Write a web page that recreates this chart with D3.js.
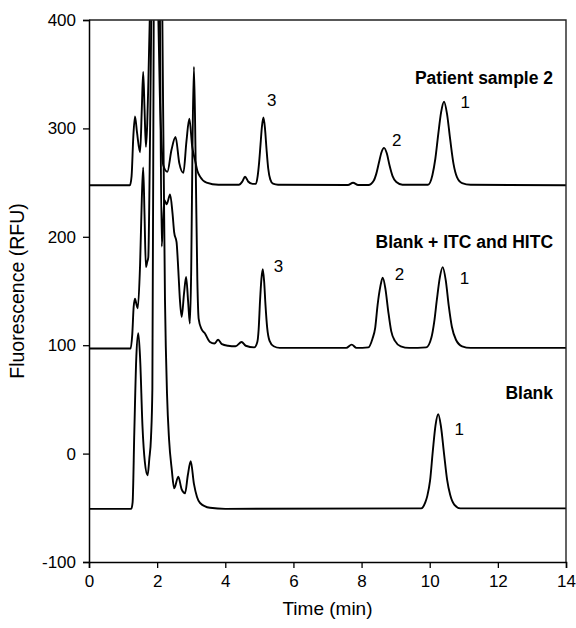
<!DOCTYPE html>
<html>
<head>
<meta charset="utf-8">
<script src="https://cdn.jsdelivr.net/npm/d3@7"></script>
<style>
  html, body { margin: 0; padding: 0; background: #fff; }
  svg { display: block; font-family: "Liberation Sans", Arial, sans-serif; }
</style>
</head>
<body>
<svg id="chart" width="576" height="628"></svg>
<script>
// Electropherogram traces: [time (min), fluorescence (RFU)]
const patientSample2 = [
  [0, 247.5], [1.2, 247.5], [1.25, 256], [1.3, 292], [1.35, 311], [1.41, 296], [1.5, 278],
  [1.55, 318], [1.59, 352], [1.63, 318], [1.67, 283], [1.71, 305], [1.74, 340], [1.79, 410],
  [1.91, 700], [2.03, 410], [2.08, 330], [2.13, 285], [2.18, 266], [2.3, 260], [2.42, 280],
  [2.54, 292], [2.65, 268], [2.77, 259], [2.86, 288], [2.945, 309], [3.03, 283], [3.11, 271],
  [3.18, 261], [3.26, 255.5], [3.45, 250], [3.8, 248], [4.4, 248], [4.5, 251], [4.58, 255.5],
  [4.67, 251], [4.8, 248.8], [4.9, 249], [4.95, 256], [4.99, 267.5], [5.035, 285.5],
  [5.075, 301.5], [5.12, 310], [5.165, 300], [5.21, 281], [5.26, 263], [5.32, 253], [5.4, 249],
  [5.55, 248], [7.6, 247.8], [7.75, 249.8], [7.9, 247.8], [8.2, 247.8], [8.36, 252],
  [8.435, 258.5], [8.51, 268.5], [8.585, 278], [8.66, 282], [8.74, 277], [8.82, 266],
  [8.91, 256], [9.02, 250.5], [9.2, 248], [9.95, 248], [10.08, 257], [10.165, 272],
  [10.25, 294.5], [10.335, 315], [10.42, 324.6], [10.51, 313], [10.6, 290], [10.7, 267],
  [10.8, 255], [10.95, 249.5], [11.2, 248], [14, 247.5]
];

const blankWithStandards = [
  [0, 97], [1.22, 97], [1.27, 110], [1.31, 135], [1.35, 143], [1.39, 138], [1.43, 134],
  [1.5, 175], [1.55, 235], [1.59, 264], [1.63, 220], [1.67, 172], [1.71, 177], [1.74, 181],
  [1.78, 260], [1.83, 410], [1.96, 800], [2.08, 410], [2.134, 191], [2.21, 234], [2.28, 230],
  [2.38, 239], [2.45, 222], [2.5, 204], [2.57, 195], [2.62, 170], [2.67, 141], [2.72, 126],
  [2.79, 148], [2.85, 163], [2.91, 140], [2.96, 120], [3.0, 170], [3.04, 290], [3.08, 357],
  [3.13, 270], [3.18, 160], [3.22, 124], [3.3, 115], [3.4, 111], [3.55, 103], [3.68, 101.5],
  [3.79, 105], [3.9, 101], [4.08, 99.5], [4.3, 99], [4.48, 103], [4.6, 99.5], [4.85, 98],
  [4.94, 103], [4.98, 115], [5.02, 141], [5.06, 161], [5.1, 170], [5.14, 159], [5.18, 137],
  [5.23, 116], [5.3, 104], [5.42, 99], [5.6, 97.5], [7.55, 97.5], [7.71, 100.5], [7.85, 97.5],
  [8.2, 98], [8.32, 106], [8.4, 116], [8.47, 137], [8.55, 154], [8.62, 162.3], [8.7, 152],
  [8.78, 132], [8.87, 113], [8.98, 104], [9.15, 99], [9.4, 97.5], [9.9, 98], [10.05, 107],
  [10.13, 121], [10.21, 142], [10.3, 163], [10.38, 172], [10.47, 160], [10.56, 136],
  [10.65, 117], [10.77, 105], [10.95, 99], [11.2, 97.5], [14, 97.5]
];

const blank = [
  [0, -51], [1.24, -51], [1.28, -45], [1.33, 20], [1.39, 90], [1.447, 111], [1.5, 88],
  [1.57, 25], [1.64, -8], [1.72, -20], [1.77, -5], [1.82, 15], [1.86, 60], [1.9, 410],
  [2.02, 900], [2.15, 410], [2.23, 142], [2.29, 55], [2.35, 13], [2.43, -15], [2.5, -32],
  [2.62, -21.3], [2.72, -33], [2.82, -36.6], [2.9, -20], [2.985, -7], [3.08, -28],
  [3.17, -40], [3.26, -45.6], [3.55, -50], [4, -51], [9.75, -50.5], [9.87, -45], [9.93, -39],
  [10.01, -25], [10.09, 2], [10.17, 26], [10.25, 36.3], [10.33, 25], [10.42, 0], [10.51, -24],
  [10.6, -38], [10.72, -47], [10.9, -50.5], [14, -50.5]
];

const traces = [patientSample2, blankWithStandards, blank];

// Trace names and peak numbers: [text, time, RFU]
const traceNames = [
  ["Patient sample 2", 13.62, 347],
  ["Blank + ITC and HITC", 13.62, 195],
  ["Blank", 13.62, 56]
];
const peakNumbers = [
  ["3", 5.36, 326], ["2", 9.03, 289], ["1", 11.04, 324.6],
  ["3", 5.56, 173], ["2", 9.11, 165.4], ["1", 11.02, 162],
  ["1", 10.87, 22.4]
];

const xTicks = [0, 2, 4, 6, 8, 10, 12, 14];
const yTicks = [-100, 0, 100, 200, 300, 400];

const svg = d3.select("#chart");
const plotLeft = 89, plotRight = 566, plotTop = 20, plotBottom = 562;

const x = d3.scaleLinear().domain([0, 14]).range([plotLeft, plotRight]);
const y = d3.scaleLinear().domain([-100, 400]).range([plotBottom, plotTop]);

svg.append("defs").append("clipPath").attr("id", "plot-clip")
  .append("rect")
  .attr("x", plotLeft).attr("y", plotTop)
  .attr("width", plotRight - plotLeft).attr("height", plotBottom - plotTop);

const line = d3.line()
  .x(d => x(d[0]))
  .y(d => y(d[1]))
  .curve(d3.curveMonotoneX);

svg.append("g").attr("clip-path", "url(#plot-clip)")
  .selectAll("path")
  .data(traces)
  .join("path")
  .attr("d", line)
  .attr("fill", "none")
  .attr("stroke", "#000")
  .attr("stroke-width", 1.9)
  .attr("stroke-linejoin", "round");

// Frame: top and right edges
svg.append("path")
  .attr("d", `M${plotLeft},${plotTop}H${plotRight}V${plotBottom}`)
  .attr("fill", "none")
  .attr("stroke", "#222")
  .attr("stroke-width", 1.4);

// Plain hyphen for negative tick values
const plainNumber = d => String(d);

const xAxis = svg.append("g")
  .attr("transform", `translate(0,${plotBottom})`)
  .call(d3.axisBottom(x).tickValues(xTicks).tickSize(6).tickPadding(7).tickFormat(plainNumber));

const yAxis = svg.append("g")
  .attr("transform", `translate(${plotLeft},0)`)
  .call(d3.axisLeft(y).tickValues(yTicks).tickSize(6).tickPadding(7).tickFormat(plainNumber));

[xAxis, yAxis].forEach(g => {
  g.select(".domain").attr("stroke", "#000").attr("stroke-width", 1.5);
  g.selectAll(".tick line").attr("stroke", "#000").attr("stroke-width", 1.3);
  g.selectAll(".tick text")
    .attr("fill", "#000")
    .style("font-size", "17px")
    .style("font-family", '"Liberation Sans", Arial, sans-serif');
});

svg.append("text")
  .attr("x", (plotLeft + plotRight) / 2)
  .attr("y", 615)
  .attr("text-anchor", "middle")
  .style("font-size", "19px")
  .text("Time (min)");

svg.append("text")
  .attr("transform", `translate(24,${(plotTop + plotBottom) / 2}) rotate(-90)`)
  .attr("text-anchor", "middle")
  .style("font-size", "19.5px")
  .text("Fluorescence (RFU)");

svg.append("g")
  .selectAll("text")
  .data(traceNames)
  .join("text")
  .attr("x", d => x(d[1]))
  .attr("y", d => y(d[2]))
  .attr("dy", "0.35em")
  .attr("text-anchor", "end")
  .style("font-size", "17.5px")
  .style("font-weight", "bold")
  .text(d => d[0]);

svg.append("g")
  .selectAll("text")
  .data(peakNumbers)
  .join("text")
  .attr("x", d => x(d[1]))
  .attr("y", d => y(d[2]))
  .attr("dy", "0.35em")
  .attr("text-anchor", "middle")
  .style("font-size", "17px")
  .text(d => d[0]);
</script>
</body>
</html>
